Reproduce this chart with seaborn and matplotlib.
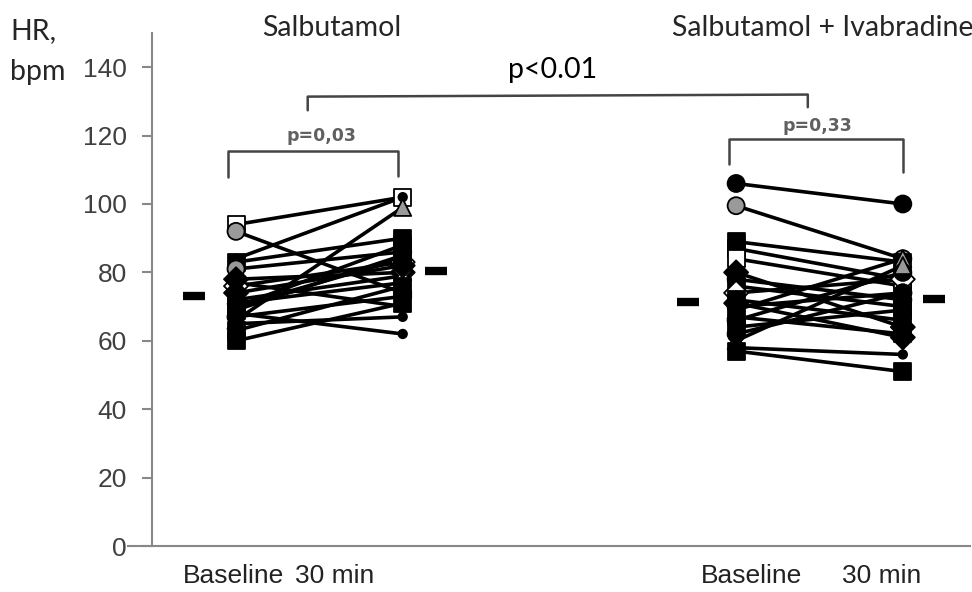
import seaborn as sns
import matplotlib.pyplot as plt
import pandas as pd

# heart rate before / after
groups = ['Salbutamol', 'Salbutamol + Ivabradine']
timepoints = ['Baseline', '30 min']

salb_baseline = [94, 92, 84, 66, 83, 81, 76, 78, 72, 70, 71, 69, 77, 74, 70, 68, 67, 65, 63, 60]
salb_30min = [102, 74, 102, 99, 90, 86, 83, 80, 79, 88, 77, 85, 70, 82, 84, 62, 73, 67, 76, 71]
salb_marker = ['s', 'o', '.', '^', 's', 'o', 'D', 'D', 'X', 's', '.', 's', '.', 'D', 's', '.', 'o', '.', 's', 's']
salb_fill = ['white', 'gray', 'black', 'gray', 'black', 'gray', 'white', 'black', 'white', 'black',
             'black', 'black', 'black', 'black', 'black', 'black', 'black', 'black', 'black', 'black']

ivab_baseline = [106, 99.5, 89, 87, 84, 80, 78, 76, 74, 72, 70, 69, 67, 66, 64, 60, 58, 57, 62, 71]
ivab_30min = [100, 84, 83, 78, 76, 64, 72, 70, 78, 66, 74, 84, 62, 80, 69, 82, 56, 51, 74, 61]
ivab_marker = ['o', 'o', 's', 's', 's', 'D', 'o', 's', 'D', 's', 'o', '^', 's', 'o', 's', '^', '.', 's', 'o', 'D']
ivab_fill = ['black', 'gray', 'black', 'black', 'white', 'black', 'black', 'black', 'white', 'black',
             'gray', 'gray', 'black', 'black', 'black', 'gray', 'black', 'black', 'black', 'black']

# group means (the short dashes)
salb_means = [73.1, 80.4]
ivab_means = [71.3, 72.2]

p_within = ['p=0,03', 'p=0,33']
p_between = 'p<0.01'

# column positions on the x scale
col_x = {('Salbutamol', 'Baseline'): 0, ('Salbutamol', '30 min'): 1,
         ('Salbutamol + Ivabradine', 'Baseline'): 3, ('Salbutamol + Ivabradine', '30 min'): 4}
mean_offset = [-0.25, 0.2, -0.29, 0.19]

rows = []
for g, base, post, mk, fc in [(groups[0], salb_baseline, salb_30min, salb_marker, salb_fill),
                              (groups[1], ivab_baseline, ivab_30min, ivab_marker, ivab_fill)]:
    for i in range(len(base)):
        for t, v in zip(timepoints, [base[i], post[i]]):
            rows.append({'subject': g + str(i), 'group': g, 'time': t, 'hr': v,
                         'x': col_x[(g, t)], 'marker': mk[i], 'fill': fc[i]})
df = pd.DataFrame(rows)

sns.set_theme(style='white')
plt.rcParams['font.family'] = ['Liberation Sans', 'DejaVu Sans']
calibri_like = ['Lato', 'DejaVu Sans']

fig = plt.figure(figsize=(9.72, 5.92), dpi=100)
ax = fig.add_axes([128 / 972, 46 / 592, 842 / 972, 513 / 592])

sns.lineplot(data=df, x='x', y='hr', units='subject', estimator=None, sort=False,
             color='black', lw=2.6, ax=ax, legend=False)
sns.scatterplot(data=df, x='x', y='hr', style='marker', hue='fill',
                markers={m: m for m in df['marker'].unique()},
                palette={'black': 'black', 'gray': '#9a9a9a', 'white': 'white'},
                s=150, edgecolor='black', linewidth=1.3, ax=ax, legend=False, zorder=3)

# mean dashes
mean_x = [col_x[(groups[0], 'Baseline')], col_x[(groups[0], '30 min')],
          col_x[(groups[1], 'Baseline')], col_x[(groups[1], '30 min')]]
for xm, off, ym in zip(mean_x, mean_offset, salb_means + ivab_means):
    ax.plot([xm + off], [ym], marker='_', ms=16, mew=6, color='black', ls='none')

# significance brackets
bk = dict(color='#444444', lw=1.8)
ax.plot([-0.05, -0.05, 0.97, 0.97], [107.9, 115.5, 115.5, 108.2], **bk)
ax.plot([2.96, 2.96, 4.0, 4.0], [111.7, 119.0, 119.0, 109.4], **bk)
ax.plot([0.43, 0.43, 3.43, 3.43], [127.4, 131.4, 132.0, 128.3], **bk)
ax.text(0.51, 119.8, p_within[0], ha='center', va='center', fontsize=12.5, color='#606060',
        weight='bold', family=['DejaVu Sans'])
ax.text(3.49, 122.8, p_within[1], ha='center', va='center', fontsize=12.5, color='#606060',
        weight='bold', family=['DejaVu Sans'])
ax.text(1.9, 139.3, p_between, ha='center', va='center', fontsize=20.5, color='black',
        family=calibri_like)

ax.set_xlim(-0.648, 4.403)
ax.set_ylim(0, 150)
ax.set_yticks(range(0, 141, 20))
ax.set_xticks([-0.018, 0.594, 3.09, 3.875], timepoints * 2)
ax.set(xlabel='', ylabel='')
sns.despine(ax=ax)
ax.spines['left'].set_position(('data', -0.504))
for s in ['left', 'bottom']:
    ax.spines[s].set_color('#888888')
    ax.spines[s].set_linewidth(1.5)
ax.tick_params(axis='y', length=7, width=1.5, color='#888888', labelsize=19,
               labelcolor='#404040', left=True, pad=11)
ax.tick_params(axis='x', length=0, labelsize=19, labelcolor='#222222', pad=13)

fig.text(332 / 972, 1 - 28 / 592, groups[0], ha='center', va='center', fontsize=20.5,
         family=calibri_like)
fig.text(823 / 972, 1 - 28 / 592, groups[1], ha='center', va='center', fontsize=20.5,
         family=calibri_like)
fig.text(10 / 972, 1 - 31 / 592, 'HR,', ha='left', va='center', fontsize=20.5,
         family=calibri_like)
fig.text(10 / 972, 1 - 72 / 592, 'bpm', ha='left', va='center', fontsize=20.5,
         family=calibri_like)

fig.savefig('out.png', dpi=100)
